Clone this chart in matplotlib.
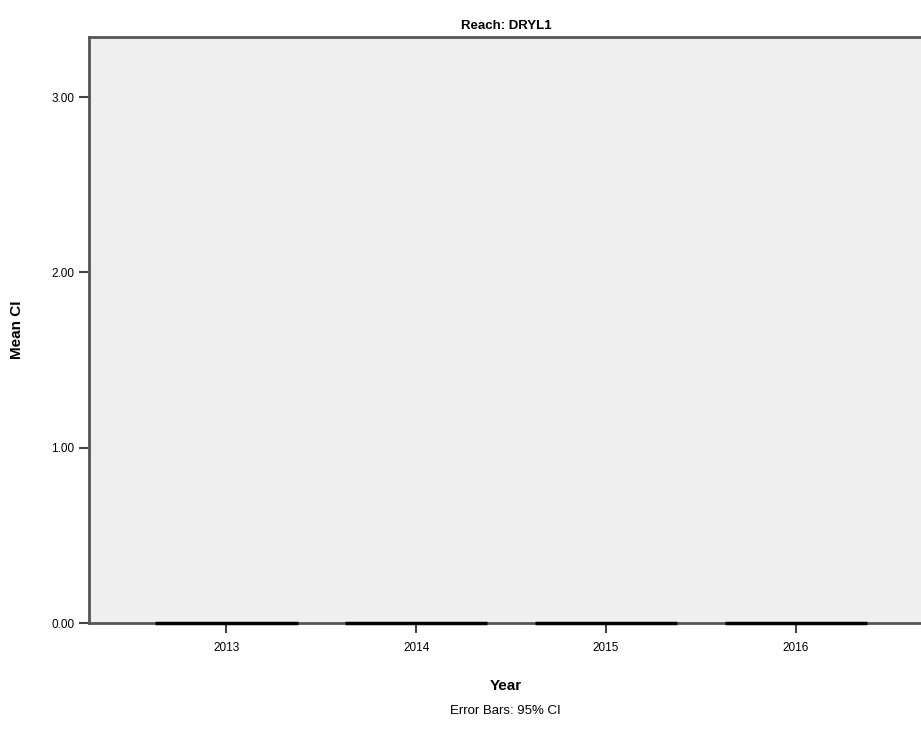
import matplotlib.pyplot as plt
import numpy as np

years = ["2013", "2014", "2015", "2016"]
mean_ci = [0.0, 0.0, 0.0, 0.0]

plt.rcParams["font.family"] = ["Liberation Sans", "DejaVu Sans"]

fig = plt.figure(figsize=(9.21, 7.40), dpi=100)
ax = fig.add_axes([89 / 921, 1 - 623 / 740, 1 - 89 / 921 + 0.002, (623 - 37) / 740])
ax.set_facecolor("#efefef")

x = np.arange(len(years))
bars = ax.bar(x, mean_ci, width=0.75, color="#efefef", edgecolor="black", linewidth=2.5, zorder=3)
for b in bars:
    b.set_clip_on(False)

ax.set_xlim(-0.724, 3.67)
ax.set_ylim(0, 3.343)
ax.set_xticks(x)
ax.set_xticklabels(years)
ax.set_yticks([0, 1, 2, 3])
ax.set_yticklabels(["0.00", "1.00", "2.00", "3.00"])
ax.tick_params(axis="both", labelsize=8.5, length=7, width=1.5, color="#444444")
ax.tick_params(axis="x", pad=7)

for side in ["left", "bottom", "top"]:
    ax.spines[side].set_color("#555555")
    ax.spines[side].set_linewidth(2)
ax.spines["right"].set_visible(False)

ax.set_title("Reach: DRYL1", fontsize=9.5, fontweight="bold", pad=6)
ax.set_ylabel("Mean CI", fontsize=11, fontweight="bold", labelpad=20)
ax.set_xlabel("Year", fontsize=11, fontweight="bold", labelpad=18)
fig.text((89 + 921) / 2 / 921, 1 - 711 / 740, "Error Bars: 95% CI", ha="center", va="center", fontsize=9.5)

fig.savefig("out.png", dpi=100)
